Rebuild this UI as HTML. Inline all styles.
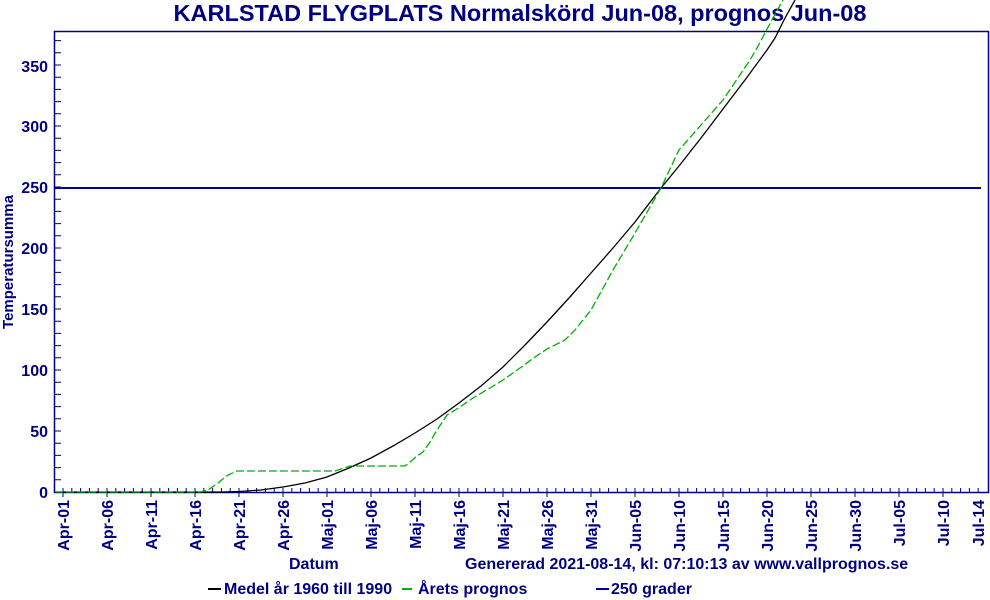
<!DOCTYPE html>
<html><head><meta charset="utf-8"><style>
body{margin:0;background:#fff}
svg{display:block;font-family:"Liberation Sans",sans-serif;font-weight:bold}
</style></head><body>
<svg width="990" height="600" viewBox="0 0 990 600" xmlns="http://www.w3.org/2000/svg">
<text x="520" y="21" font-size="23.5" text-anchor="middle" fill="#000080">KARLSTAD FLYGPLATS Normalskörd Jun-08, prognos Jun-08</text>
<rect x="54.5" y="31.5" width="934" height="461" fill="none" stroke="#000080" stroke-width="1.5"/>
<line x1="58" y1="492.5" x2="58" y2="31" stroke="#000080" stroke-width="6" stroke-dasharray="1 11.2"/>
<line x1="62.5" y1="490" x2="980" y2="490" stroke="#000080" stroke-width="4" stroke-dasharray="1 7.8"/>
<line x1="62.5" y1="494.5" x2="980" y2="494.5" stroke="#000080" stroke-width="5" stroke-dasharray="1 43"/>
<g font-size="16" text-anchor="end" fill="#000080">
<text x="48" y="498">0</text><text x="48" y="437">50</text><text x="48" y="376">100</text><text x="48" y="315">150</text><text x="48" y="254">200</text><text x="48" y="193">250</text><text x="48" y="132">300</text><text x="48" y="72">350</text>
</g>
<text transform="translate(13,262) rotate(-90)" font-size="15" text-anchor="middle" fill="#000080">Temperatursumma</text>
<g font-size="16" fill="#000080" text-anchor="end">
<text transform="translate(69,500) rotate(-90)">Apr-01</text>
<text transform="translate(113,500) rotate(-90)">Apr-06</text>
<text transform="translate(157,500) rotate(-90)">Apr-11</text>
<text transform="translate(201,500) rotate(-90)">Apr-16</text>
<text transform="translate(245,500) rotate(-90)">Apr-21</text>
<text transform="translate(289,500) rotate(-90)">Apr-26</text>
<text transform="translate(333,500) rotate(-90)">Maj-01</text>
<text transform="translate(377,500) rotate(-90)">Maj-06</text>
<text transform="translate(421,500) rotate(-90)">Maj-11</text>
<text transform="translate(465,500) rotate(-90)">Maj-16</text>
<text transform="translate(509,500) rotate(-90)">Maj-21</text>
<text transform="translate(553,500) rotate(-90)">Maj-26</text>
<text transform="translate(597,500) rotate(-90)">Maj-31</text>
<text transform="translate(641,500) rotate(-90)">Jun-05</text>
<text transform="translate(685,500) rotate(-90)">Jun-10</text>
<text transform="translate(729,500) rotate(-90)">Jun-15</text>
<text transform="translate(773,500) rotate(-90)">Jun-20</text>
<text transform="translate(817,500) rotate(-90)">Jun-25</text>
<text transform="translate(861,500) rotate(-90)">Jun-30</text>
<text transform="translate(905,500) rotate(-90)">Jul-05</text>
<text transform="translate(949,500) rotate(-90)">Jul-10</text>
<text transform="translate(984,500) rotate(-90)">Jul-14</text>
</g>
<line x1="55" y1="188" x2="981" y2="188" stroke="#0000a0" stroke-width="2"/>
<polyline fill="none" stroke="#000" stroke-width="1.3" points="55,492 221,492 239,491.5 261,490 283,487 305,483 327,477 349,468 371,458 393,446 415,433 437,419 459,403 481,386 503,367 525,345 547,322 569,298 591,273 613,248 635,222 661,188 679,166 701,138 723,109 745,80 767,50 775,38 785,18 795,0"/>
<polyline fill="none" stroke="#00b000" stroke-width="1.3" stroke-dasharray="8,3" points="55,492 200,492 208,490 218,483 228,475 237,471 245,471 335,471 350,466 405,466 410,462 417,456 423,452 430,442 437,430 447,415 460,407 473,398 490,388 503,380 520,368 535,357 547,349 565,340 575,330 591,310 613,270 635,233 661,188 679,150 701,125 723,100 750,60 757,48 765,33 773,18 783,0"/>
<g font-size="16" fill="#000080">
<text x="289" y="569">Datum</text>
<text x="465" y="569">Genererad 2021-08-14, kl: 07:10:13 av www.vallprognos.se</text>
</g>
<g font-size="16" fill="#000080">
<line x1="208" y1="589" x2="221" y2="589" stroke="#000" stroke-width="2"/>
<text x="224" y="594">Medel år 1960 till 1990</text>
<line x1="402" y1="589" x2="412" y2="589" stroke="#00b000" stroke-width="2"/>
<text x="418" y="594">Årets prognos</text>
<line x1="596" y1="589" x2="609" y2="589" stroke="#0000a0" stroke-width="2"/>
<text x="611" y="594">250 grader</text>
</g>
</svg>
</body></html>
